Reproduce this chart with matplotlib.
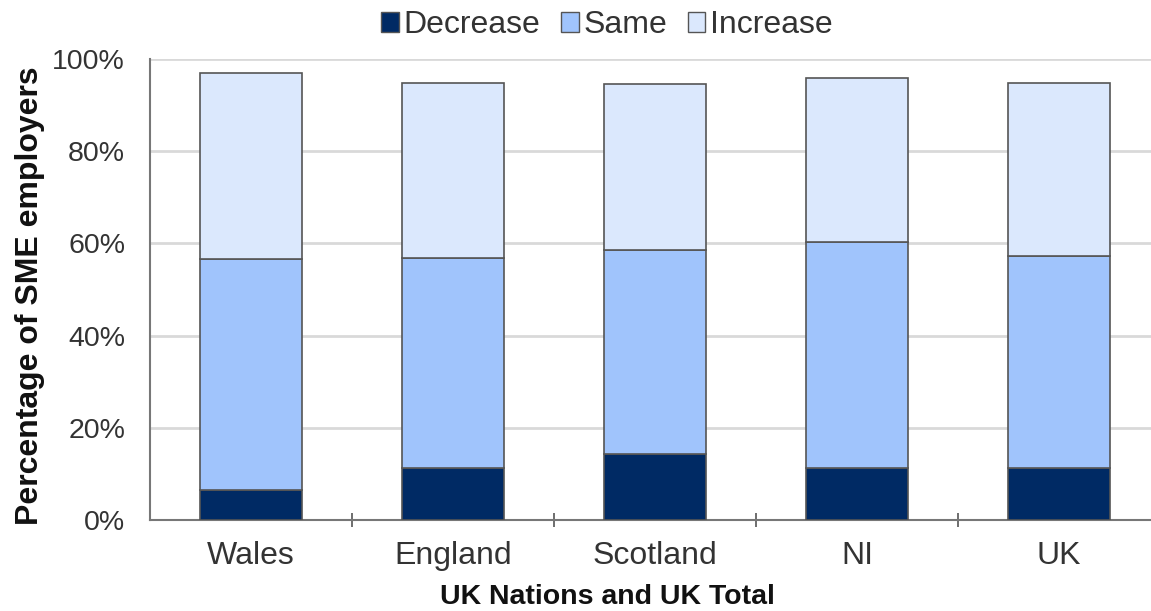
import matplotlib
matplotlib.use("Agg")
import matplotlib.pyplot as plt
from matplotlib.patches import Patch
from matplotlib.ticker import FuncFormatter

categories = ["Wales", "England", "Scotland", "NI", "UK"]
decrease = [6.5, 11.3, 14.3, 11.3, 11.3]
same = [50.2, 45.6, 44.3, 49.0, 46.0]
increase = [40.2, 38.0, 36.0, 35.5, 37.5]

plt.rcParams['font.family'] = ['Liberation Sans', 'DejaVu Sans']

W, H = 1151, 611
fig = plt.figure(figsize=(W / 100, H / 100), dpi=100)
left, right, bottom, top = 150, 1160, 520, 59
ax = fig.add_axes([left / W, (H - bottom) / H, (right - left) / W, (bottom - top) / H])

c_dec, c_same, c_inc = "#002a64", "#a0c4fc", "#dbe8fd"
edge = "#555555"
x = list(range(len(categories)))
bw = 0.505
ax.bar(x, decrease, bw, color=c_dec, edgecolor=edge, linewidth=1.2, zorder=3)
bottoms2 = [d for d in decrease]
ax.bar(x, same, bw, bottom=bottoms2, color=c_same, edgecolor=edge, linewidth=1.2, zorder=3)
bottoms3 = [d + s for d, s in zip(decrease, same)]
ax.bar(x, increase, bw, bottom=bottoms3, color=c_inc, edgecolor=edge, linewidth=1.2, zorder=3)

ax.set_xlim(-0.5, len(categories) - 0.5)
ax.set_ylim(0, 100)
ax.set_yticks([0, 20, 40, 60, 80, 100])
ax.yaxis.set_major_formatter(FuncFormatter(lambda v, p: f"{int(v)}%"))
ax.yaxis.grid(True, color="#d9d9d9", linewidth=2, zorder=0)
ax.set_axisbelow(True)
ax.tick_params(axis='y', length=0, labelsize=20.5, colors="#333333", pad=18)

ax.set_xticks(x)
ax.set_xticklabels(categories)
ax.tick_params(axis='x', length=0, labelsize=23, colors="#333333", pad=15)
ax.set_xticks([i + 0.5 for i in range(len(categories) - 1)], minor=True)
ax.tick_params(axis='x', which='minor', length=10, direction='inout', color="#555555", width=1.2)

for s in ['top', 'right']:
    ax.spines[s].set_visible(False)
for s in ['left', 'bottom']:
    ax.spines[s].set_color("#777777")
    ax.spines[s].set_linewidth(1.5)

ax.set_xlabel("UK Nations and UK Total", fontsize=20.5, fontweight='bold', color="#111111",
              va='center', ha='center')
ax.xaxis.set_label_coords(607 / W, 1 - 597 / H, transform=fig.transFigure)
ax.set_ylabel("Percentage of SME employers", fontsize=23, fontweight='bold', color="#111111",
              va='center', ha='center')
ax.yaxis.set_label_coords(30 / W, 1 - 296 / H, transform=fig.transFigure)

handles = [Patch(facecolor=c_dec, edgecolor=edge, label="Decrease"),
           Patch(facecolor=c_same, edgecolor=edge, label="Same"),
           Patch(facecolor=c_inc, edgecolor=edge, label="Increase")]
fig.legend(handles=handles, loc='center', bbox_to_anchor=(607 / W, 1 - 25 / H), ncol=3,
           frameon=False, fontsize=23, handlelength=0.55, handleheight=0.6,
           handletextpad=0.15, columnspacing=0.65, labelcolor="#333333")

fig.savefig("out.png", dpi=100)
